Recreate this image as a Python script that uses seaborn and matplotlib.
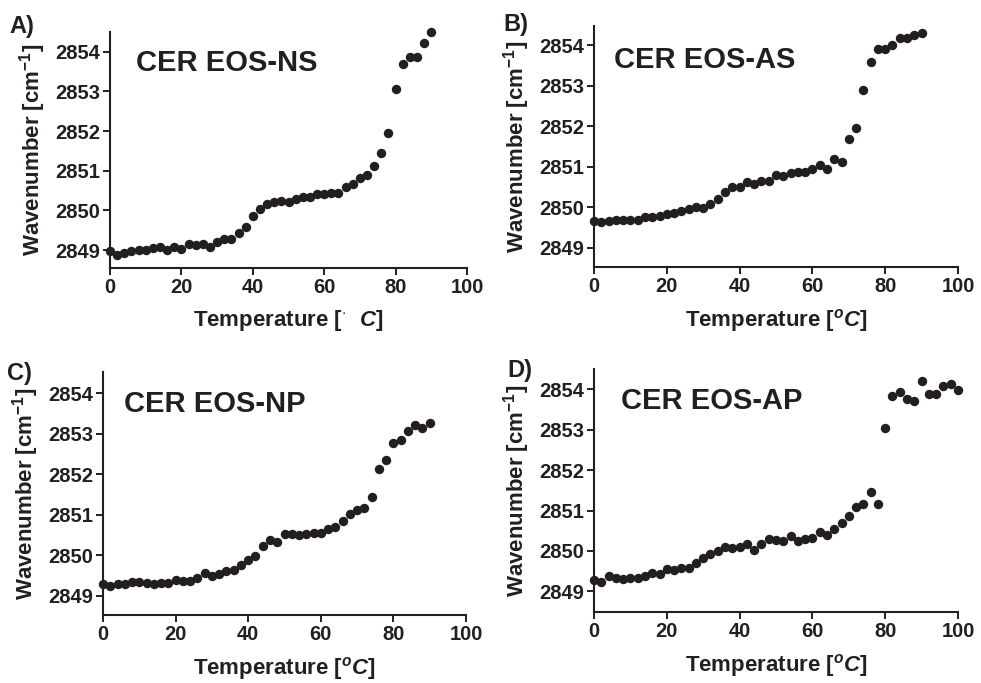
import matplotlib
matplotlib.use("Agg")
import matplotlib.pyplot as plt
import seaborn as sns
import pandas as pd

# Temperature steps (deg C)
temp_90 = [0, 2, 4, 6, 8, 10, 12, 14, 16, 18, 20, 22, 24, 26, 28, 30, 32, 34,
           36, 38, 40, 42, 44, 46, 48, 50, 52, 54, 56, 58, 60, 62, 64, 66, 68,
           70, 72, 74, 76, 78, 80, 82, 84, 86, 88, 90]
temp_100 = temp_90 + [92, 94, 96, 98, 100]

# CH2 symmetric stretching wavenumbers (cm^-1)
wn_ns = [2848.98, 2848.89, 2848.92, 2848.97, 2849.00, 2849.00, 2849.06, 2849.08,
         2849.00, 2849.07, 2849.04, 2849.15, 2849.13, 2849.15, 2849.08, 2849.21,
         2849.27, 2849.27, 2849.42, 2849.59, 2849.87, 2850.05, 2850.16, 2850.22,
         2850.25, 2850.22, 2850.29, 2850.35, 2850.33, 2850.41, 2850.42, 2850.45,
         2850.45, 2850.59, 2850.66, 2850.81, 2850.90, 2851.11, 2851.45, 2851.95,
         2853.07, 2853.70, 2853.87, 2853.87, 2854.22, 2854.51]
wn_as = [2849.66, 2849.63, 2849.66, 2849.70, 2849.70, 2849.70, 2849.70, 2849.77,
         2849.76, 2849.80, 2849.84, 2849.86, 2849.91, 2849.96, 2850.01, 2849.99,
         2850.09, 2850.21, 2850.38, 2850.50, 2850.50, 2850.62, 2850.57, 2850.65,
         2850.65, 2850.81, 2850.77, 2850.85, 2850.88, 2850.88, 2850.94, 2851.04,
         2850.96, 2851.20, 2851.13, 2851.68, 2851.95, 2852.90, 2853.60, 2853.90,
         2853.90, 2854.02, 2854.19, 2854.19, 2854.27, 2854.30]
wn_np = [2849.29, 2849.25, 2849.29, 2849.29, 2849.35, 2849.35, 2849.32, 2849.30,
         2849.33, 2849.33, 2849.39, 2849.37, 2849.37, 2849.43, 2849.57, 2849.49,
         2849.53, 2849.62, 2849.65, 2849.77, 2849.88, 2849.98, 2850.23, 2850.39,
         2850.33, 2850.52, 2850.52, 2850.50, 2850.52, 2850.54, 2850.54, 2850.65,
         2850.70, 2850.84, 2851.01, 2851.12, 2851.17, 2851.44, 2852.14, 2852.35,
         2852.78, 2852.84, 2853.07, 2853.21, 2853.15, 2853.27]
wn_ap = [2849.29, 2849.23, 2849.37, 2849.34, 2849.31, 2849.34, 2849.33, 2849.37,
         2849.46, 2849.44, 2849.55, 2849.54, 2849.59, 2849.59, 2849.71, 2849.83,
         2849.93, 2849.99, 2850.10, 2850.08, 2850.10, 2850.16, 2850.02, 2850.17,
         2850.29, 2850.26, 2850.24, 2850.37, 2850.25, 2850.29, 2850.33, 2850.47,
         2850.40, 2850.54, 2850.68, 2850.86, 2851.09, 2851.17, 2851.46, 2851.17,
         2853.05, 2853.82, 2853.93, 2853.76, 2853.72, 2854.21, 2853.88, 2853.88,
         2854.07, 2854.12, 2853.98]

titles = ["CER EOS-NS", "CER EOS-AS", "CER EOS-NP", "CER EOS-AP"]
letters = ["A)", "B)", "C)", "D)"]
x_ticks = [0, 20, 40, 60, 80, 100]
y_ticks = [2849, 2850, 2851, 2852, 2853, 2854]

sns.set_style("ticks")
plt.rcParams["font.family"] = ["Liberation Sans", "DejaVu Sans"]
plt.rcParams["font.weight"] = "bold"
plt.rcParams["mathtext.fontset"] = "custom"
plt.rcParams["mathtext.rm"] = "Liberation Sans:bold"
plt.rcParams["mathtext.it"] = "Liberation Sans:bold:italic"
plt.rcParams["mathtext.bf"] = "Liberation Sans:bold"

INK = "#231f20"
W, H = 981, 683
fig = plt.figure(figsize=(W / 100, H / 100), dpi=100)


def px_axes(left, right, top, bottom):
    return fig.add_axes([left / W, 1 - bottom / H, (right - left) / W, (bottom - top) / H])


panels = [
    dict(box=(110, 467, 32, 268), ylim=(2848.55, 2854.5), x=temp_90, y=wn_ns,
         xlabel=r"Temperature [$^{\cdot}\ \ C$]", title_xy=(136, 63), letter_xy=(9, 27)),
    dict(box=(594, 958, 26, 267), ylim=(2848.53, 2854.48), x=temp_90, y=wn_as,
         xlabel=r"Temperature [$^{o}C$]", title_xy=(614, 60), letter_xy=(503, 24)),
    dict(box=(103, 466, 372, 615), ylim=(2848.53, 2854.52), x=temp_90, y=wn_np,
         xlabel=r"Temperature [$^{o}C$]", title_xy=(124, 404), letter_xy=(7, 373)),
    dict(box=(594, 958, 369, 612), ylim=(2848.49, 2854.5), x=temp_100, y=wn_ap,
         xlabel=r"Temperature [$^{o}C$]", title_xy=(621, 401), letter_xy=(507, 370)),
]

for p, title, letter in zip(panels, titles, letters):
    ax = px_axes(*p["box"])
    df = pd.DataFrame({"Temperature": p["x"], "Wavenumber": p["y"]})
    sns.scatterplot(data=df, x="Temperature", y="Wavenumber", ax=ax,
                    color=INK, s=46, linewidth=0, clip_on=False, zorder=3)
    ax.set_xlim(0, 100)
    ax.set_ylim(*p["ylim"])
    ax.set_xticks(x_ticks)
    ax.set_yticks(y_ticks)
    ax.tick_params(axis="both", direction="out", length=5, width=1.4,
                   color=INK, labelcolor=INK, labelsize=14.5, pad=2)
    for lab in ax.get_xticklabels() + ax.get_yticklabels():
        lab.set_fontweight("bold")
    sns.despine(ax=ax)
    for side in ("left", "bottom"):
        ax.spines[side].set_linewidth(1.5)
        ax.spines[side].set_color(INK)
    ax.set_xlabel(p["xlabel"], fontsize=16, fontweight="bold", color=INK, labelpad=8)
    ax.set_ylabel(r"Wavenumber [cm$^{-1}$]", fontsize=16, fontweight="bold",
                  color=INK, labelpad=5)
    tx, ty = p["title_xy"]
    fig.text(tx / W, 1 - ty / H, title, fontsize=21, fontweight="bold",
             color=INK, ha="left", va="center")
    lx, ly = p["letter_xy"]
    fig.text(lx / W, 1 - ly / H, letter, fontsize=17, fontweight="bold",
             color=INK, ha="left", va="center")

fig.savefig("out.png", dpi=100)
